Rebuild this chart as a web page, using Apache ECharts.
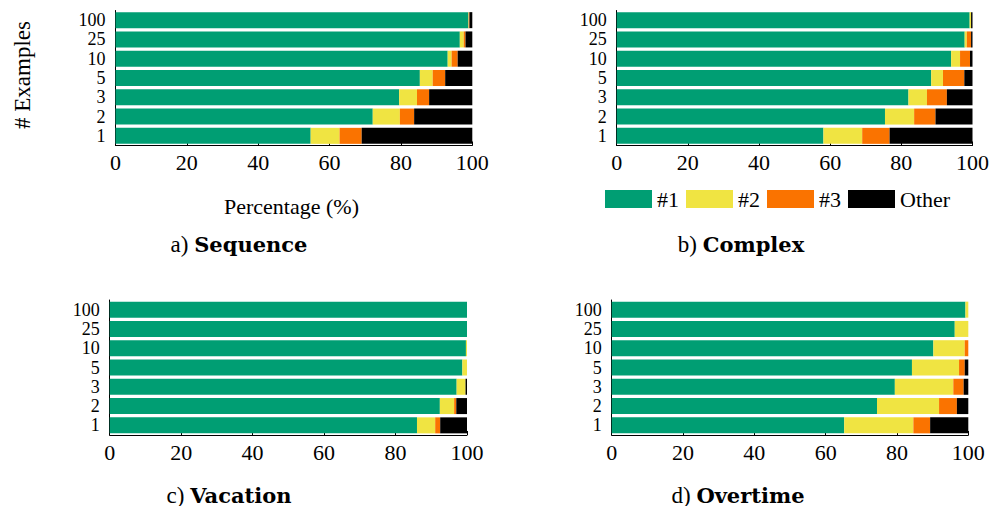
<!DOCTYPE html>
<html>
<head>
<meta charset="utf-8">
<script src="https://cdn.jsdelivr.net/npm/echarts@6/dist/echarts.min.js"></script>
<style>
html,body{margin:0;padding:0;background:#fff;}
#chart{width:992px;height:506px;}
</style>
</head>
<body>
<div id="chart"></div>
<script>
// ---- data ----
const categories = ['1', '2', '3', '5', '10', '25', '100'];
const seriesNames = ['#1', '#2', '#3', 'Other'];
const xTickValues = [0, 20, 40, 60, 80, 100];
const panelLetters = ['a)', 'b)', 'c)', 'd)'];
const panelNames = ['Sequence', 'Complex', 'Vacation', 'Overtime'];
const yAxisTitle = '# Examples';
const xAxisTitle = 'Percentage (%)';

// values per category (1,2,3,5,10,25,100)
const sequenceTop1  = [54.7, 72.1, 79.5, 85.3, 93.1, 96.5, 98.9];
const sequenceTop2  = [8.1, 7.6, 5.0, 3.6, 1.1, 1.1, 0.1];
const sequenceTop3  = [6.2, 4.0, 3.4, 3.5, 1.7, 0.5, 0.2];
const sequenceOther = [31.0, 16.3, 12.1, 7.6, 4.1, 1.9, 0.8];

const complexTop1  = [58.1, 75.4, 82.0, 88.4, 94.0, 97.8, 99.2];
const complexTop2  = [10.9, 8.2, 5.2, 3.3, 2.5, 0.6, 0.4];
const complexTop3  = [7.7, 6.0, 5.6, 6.0, 2.8, 1.2, 0.0];
const complexOther = [23.3, 10.4, 7.2, 2.3, 0.7, 0.4, 0.4];

const vacationTop1  = [86.0, 92.4, 97.1, 98.7, 99.7, 100, 100];
const vacationTop2  = [5.1, 4.0, 2.5, 1.3, 0.3, 0, 0];
const vacationTop3  = [1.4, 0.6, 0, 0, 0, 0, 0];
const vacationOther = [7.5, 3.0, 0.4, 0, 0, 0, 0];

const overtimeTop1  = [65.2, 74.4, 79.4, 84.2, 90.2, 96.2, 99.2];
const overtimeTop2  = [19.4, 17.4, 16.4, 13.2, 8.8, 3.8, 0.8];
const overtimeTop3  = [4.7, 5.0, 2.9, 1.6, 1.0, 0, 0];
const overtimeOther = [10.7, 3.2, 1.3, 1.0, 0, 0, 0];

const panelData = [
  [sequenceTop1, sequenceTop2, sequenceTop3, sequenceOther],
  [complexTop1, complexTop2, complexTop3, complexOther],
  [vacationTop1, vacationTop2, vacationTop3, vacationOther],
  [overtimeTop1, overtimeTop2, overtimeTop3, overtimeOther]
];

// ---- styling / layout ----
const colors = ['#009E73', '#F0E442', '#FA7300', '#000000'];
const FONT = 'Liberation Serif';
const BOLDFONT = 'DejaVu Serif';
const grids = [
  { left: 115.5, top: 10.5, width: 356.8, height: 135 },
  { left: 616.7, top: 10.5, width: 357,   height: 135 },
  { left: 109.7, top: 300,  width: 357.3, height: 135 },
  { left: 611.7, top: 300,  width: 356.6, height: 135 }
];
const titlePos = [[239, 244], [741, 244], [229, 495], [738, 495]];

const xAxes = [], yAxes = [], series = [];
grids.forEach((g, i) => {
  xAxes.push({
    type: 'value', gridIndex: i, min: 0, max: 100, interval: 20,
    axisLine: { show: true, lineStyle: { color: '#000', width: 1 } },
    axisTick: { show: true, inside: true, length: 4, lineStyle: { color: '#000', width: 1 } },
    splitLine: { show: false },
    axisLabel: {
      margin: 6, color: '#000', fontFamily: FONT, fontSize: 22,
      formatter: v => xTickValues.includes(v) ? String(v) : ''
    }
  });
  yAxes.push({
    type: 'category', gridIndex: i, data: categories,
    axisLine: { show: true, lineStyle: { color: '#000', width: 1 } },
    axisTick: { show: false },
    axisLabel: { interval: 0, margin: 10, color: '#000', fontFamily: FONT, fontSize: 18, lineHeight: 18 }
  });
  panelData[i].forEach((vals, k) => {
    series.push({
      type: 'bar', name: seriesNames[k], stack: 'p' + i,
      xAxisIndex: i, yAxisIndex: i,
      barCategoryGap: '17%',
      itemStyle: { color: colors[k] },
      data: vals,
      silent: true,
      animation: false
    });
  });
});

const graphics = [
  {
    type: 'text', x: 22, y: 75, rotation: Math.PI / 2,
    style: { text: yAxisTitle, fill: '#000', font: '23px "' + FONT + '"', align: 'center', verticalAlign: 'middle' }
  },
  {
    type: 'text', x: 291.5, y: 206,
    style: { text: xAxisTitle, fill: '#000', font: '22px "' + FONT + '"', align: 'center', verticalAlign: 'middle' }
  }
];
titlePos.forEach((p, i) => {
  graphics.push({
    type: 'text', x: p[0], y: p[1],
    style: {
      text: '{r|' + panelLetters[i] + ' }{b|' + panelNames[i] + '}',
      fill: '#000', align: 'center', verticalAlign: 'middle',
      rich: {
        r: { fontFamily: FONT, fontSize: 23, fill: '#000' },
        b: { fontFamily: BOLDFONT, fontSize: 21, fontWeight: 'bold', fill: '#000' }
      }
    }
  });
});

const chart = echarts.init(document.getElementById('chart'), null, { renderer: 'svg' });
chart.setOption({
  animation: false,
  color: colors,
  grid: grids.map(g => Object.assign({ containLabel: false }, g)),
  xAxis: xAxes,
  yAxis: yAxes,
  series: series,
  legend: {
    left: 605, top: 188, padding: 0, itemGap: 7,
    itemWidth: 47, itemHeight: 18, icon: 'rect',
    selectedMode: false,
    textStyle: { fontFamily: FONT, fontSize: 22, color: '#000' },
    data: seriesNames.map((n, k) => ({
      name: n,
      textStyle: { width: k < 3 ? 29 : 58, fontFamily: FONT, fontSize: 22, color: '#000' }
    }))
  },
  graphic: graphics
});
</script>
</body>
</html>
